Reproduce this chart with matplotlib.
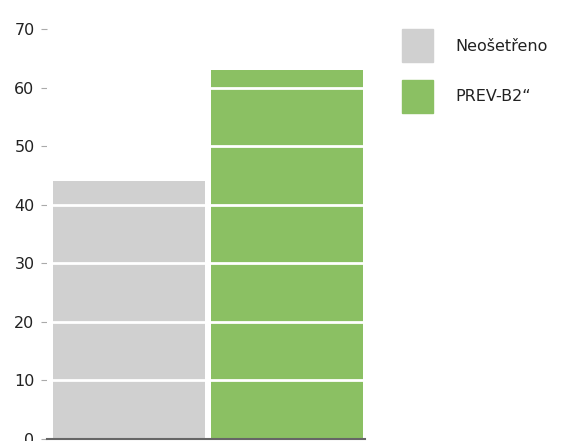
import matplotlib.pyplot as plt
from matplotlib.patches import Patch

# Bar data
labels = ["Neošetřeno", "PREV-B2\u201c"]
values = [44, 63]
colors = ["#d0d0d0", "#8bc063"]

fig = plt.figure(figsize=(5.8, 4.41), dpi=100)
ax = fig.add_axes([47 / 580, 2 / 441, 318 / 580, 410 / 441])

x = range(len(values))
ax.bar(x, values, width=0.962, color=colors, zorder=1)

ax.set_ylim(0, 70)
ax.set_xlim(-0.519, 1.494)
ax.set_yticks(range(0, 71, 10))
ax.set_xticks([])

# white gridlines drawn over the bars
for y in range(10, 70, 10):
    ax.axhline(y, color="white", lw=2, zorder=2)

for s in ["top", "right", "left"]:
    ax.spines[s].set_visible(False)
ax.spines["bottom"].set_color("#666666")
ax.spines["bottom"].set_linewidth(1.5)
ax.tick_params(axis="y", length=4, color="#aaaaaa", labelsize=11.5,
               labelcolor="#222222", pad=5)

handles = [Patch(color=c) for c in colors]
fig.legend(handles, labels, loc="upper left", bbox_to_anchor=(388 / 580, 1 - 15 / 441),
           frameon=False, fontsize=11.5, handlelength=1.94, handleheight=2.8,
           labelspacing=1.12, handletextpad=1.35, labelcolor="#222222")

fig.savefig("out.png", dpi=100)
